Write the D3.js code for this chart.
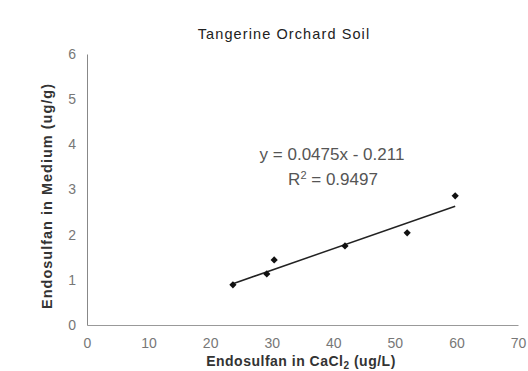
<!DOCTYPE html>
<html><head><meta charset="utf-8">
<script src="https://cdn.jsdelivr.net/npm/d3@7/dist/d3.min.js"></script>
<style>body{margin:0;background:#fff;} svg{display:block;font-family:"Liberation Sans",Arial,sans-serif;}</style>
</head><body>
<svg id="c" width="528" height="371"></svg>
<script>
const xValues = [23.7, 29.2, 30.4, 41.9, 52.0, 59.8];
const yValues = [0.89, 1.13, 1.44, 1.75, 2.04, 2.86];
const xTicks = [0, 10, 20, 30, 40, 50, 60, 70];
const yTicks = [0, 1, 2, 3, 4, 5, 6];
const slope = 0.0475, intercept = -0.211, r2 = "0.9497";

const svg = d3.select("#c");
const x = d3.scaleLinear().domain([0, 70]).range([87, 518]);
const y = d3.scaleLinear().domain([0, 6]).range([325, 54]);

const tickCol = "#777";
const xAxis = svg.append("g").attr("transform", "translate(0,325)")
  .call(d3.axisBottom(x).tickValues(xTicks).tickFormat(d3.format("d")).tickSize(0).tickPadding(13));
xAxis.select(".domain").attr("stroke", "#999");
xAxis.selectAll("text").attr("fill", tickCol).attr("font-size", 14).attr("font-family", "Liberation Sans, Arial, sans-serif");

const yAxis = svg.append("g").attr("transform", "translate(87,0)")
  .call(d3.axisLeft(y).tickValues(yTicks).tickFormat(d3.format("d")).tickSize(0).tickPadding(11));
yAxis.select(".domain").attr("stroke", "#888");
yAxis.selectAll("text").attr("fill", tickCol).attr("font-size", 14).attr("font-family", "Liberation Sans, Arial, sans-serif");

// trendline
const x0 = d3.min(xValues), x1 = d3.max(xValues);
svg.append("line")
  .attr("x1", x(x0)).attr("y1", y(slope * x0 + intercept))
  .attr("x2", x(x1)).attr("y2", y(slope * x1 + intercept))
  .attr("stroke", "#222").attr("stroke-width", 1.5);

// points (diamonds)
svg.selectAll(".pt").data(xValues).enter().append("path")
  .attr("class", "pt")
  .attr("d", d3.symbol(d3.symbolSquare, 26)())
  .attr("transform", (d, i) => `translate(${x(d)},${y(yValues[i])}) rotate(45)`)
  .attr("fill", "#111");

// title
svg.append("text").attr("x", 284).attr("y", 39).attr("text-anchor", "middle")
  .attr("font-size", 14.5).attr("letter-spacing", 1.1).attr("fill", "#222").text("Tangerine Orchard Soil");

// equation
svg.append("text").attr("x", 332).attr("y", 160).attr("text-anchor", "middle")
  .attr("font-size", 17).attr("fill", "#555").text(`y = ${slope}x - ${Math.abs(intercept)}`);
const rt = svg.append("text").attr("x", 333).attr("y", 185).attr("text-anchor", "middle")
  .attr("font-size", 17).attr("fill", "#555");
rt.append("tspan").text("R");
rt.append("tspan").attr("dy", -6).attr("font-size", 11).text("2");
rt.append("tspan").attr("dy", 6).text(" = " + r2);

// x title
const xt = svg.append("text").attr("x", 301).attr("y", 366).attr("text-anchor", "middle")
  .attr("font-size", 14).attr("letter-spacing", 0.5).attr("fill", "#333").attr("font-weight", "bold");
xt.append("tspan").text("Endosulfan in CaCl");
xt.append("tspan").attr("dy", 3).attr("font-size", 10).text("2");
xt.append("tspan").attr("dy", -3).text(" (ug/L)");

// y title
svg.append("text").attr("transform", "translate(52,196) rotate(-90)").attr("text-anchor", "middle")
  .attr("font-size", 14.5).attr("letter-spacing", 1).attr("fill", "#333").attr("font-weight", "bold")
  .text("Endosulfan in Medium (ug/g)");
</script>
</body></html>
